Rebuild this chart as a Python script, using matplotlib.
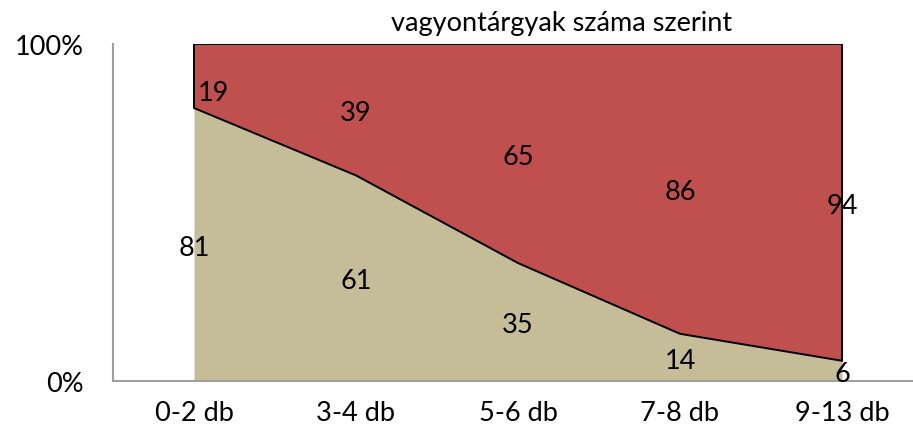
import matplotlib.pyplot as plt
import numpy as np

plt.rcParams['font.family'] = ['Lato', 'DejaVu Sans']

categories = ['0-2 db', '3-4 db', '5-6 db', '7-8 db', '9-13 db']
bottom_vals = [81, 61, 35, 14, 6]
top_vals = [19, 39, 65, 86, 94]
title = 'vagyontárgyak száma szerint'

tan = '#C4BD97'
red = '#C0504D'

W, H = 913, 439
fig = plt.figure(figsize=(W / 100, H / 100), dpi=100)
# plot area: x -0.5 .. 4.5 mapped to pixels 113 .. 923, y 0..100 to 382 .. 45
ax = fig.add_axes([113 / W, (H - 382) / H, 810 / W, 337 / H])

x = np.arange(len(categories))
b = np.array(bottom_vals, dtype=float)
t = np.array(top_vals, dtype=float)
total = b + t
bp = b / total * 100
tp = bp + t / total * 100

ax.fill_between(x, 0, bp, color=tan, linewidth=0)
ax.fill(np.concatenate([x, x[::-1]]), np.concatenate([tp, bp[::-1]]),
        facecolor=red, edgecolor='black', linewidth=1.4, joinstyle='miter')

# data labels, centred in each band
fs = 19.5
for i in range(len(categories)):
    ax.annotate(str(bottom_vals[i]), (x[i], bp[i] / 2), xytext=(0, -2),
                textcoords='offset points', ha='center', va='center', fontsize=fs)
    dx, dy = (0, -2)
    if i == 0:
        dx, dy = (14, -12)
    ax.annotate(str(top_vals[i]), (x[i], bp[i] + (tp[i] - bp[i]) / 2),
                xytext=(dx, dy), textcoords='offset points',
                ha='center', va='center', fontsize=fs)

ax.set_xlim(-0.5, 4.5)
ax.set_ylim(0, 100)
ax.set_xticks(x)
ax.set_xticklabels(categories, fontsize=fs)
ax.set_yticks([0, 100])
ax.set_yticklabels(['0%', '100%'], fontsize=fs)
ax.tick_params(length=0, pad=14)
ax.tick_params(axis='y', pad=21)
for s in ['top', 'right']:
    ax.spines[s].set_visible(False)
for s in ['left', 'bottom']:
    ax.spines[s].set_color('#A0A0A0')
    ax.spines[s].set_linewidth(1.5)

fig.text(562 / W, 1 - 23 / H, title, ha='center', va='center', fontsize=fs)

fig.savefig('out.png', dpi=100)
